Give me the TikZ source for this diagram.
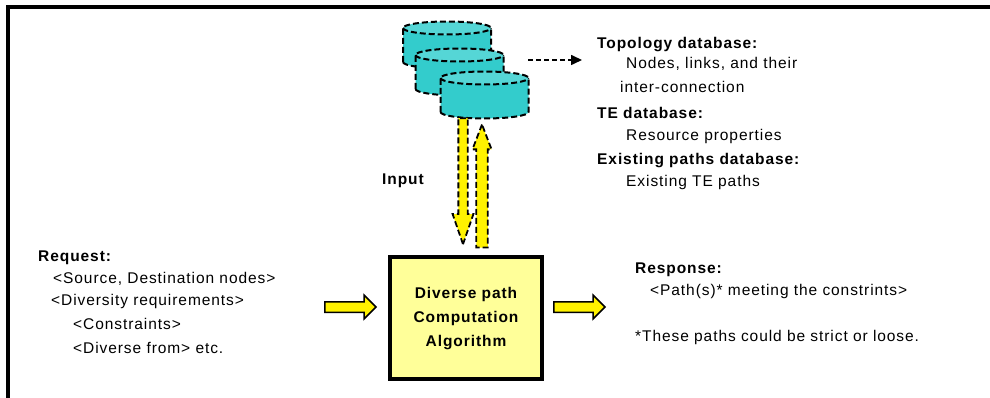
\documentclass[tikz,border=0pt]{standalone}
\usepackage{fontspec}
\setmainfont[LetterSpace=6]{Liberation Sans}
\usetikzlibrary{shapes.geometric,shapes.arrows,arrows.meta}
\definecolor{dbteal}{HTML}{33CCCC}
\definecolor{dbtop}{HTML}{55D6D6}
\definecolor{boxyellow}{HTML}{FFFF99}
\tikzset{
  txt/.style={anchor=base west,inner sep=0pt,font=\fontsize{15.5}{17}\selectfont},
  txtb/.style={txt,font=\fontsize{15.5}{17}\selectfont\bfseries},
  dbcyl/.style={cylinder,shape border rotate=90,aspect=1,anchor=shape center,draw=black,line width=2pt,
    dash pattern=on 6pt off 3pt,cylinder uses custom fill,cylinder body fill=dbteal,cylinder end fill=dbtop,
    minimum width=88pt,minimum height=47pt,inner sep=6.5pt},
  flatarrow/.style={single arrow,anchor=tip,draw=black,fill=yellow,inner xsep=0pt},
  feedarrow/.style={flatarrow,dash pattern=on 6pt off 3pt,line width=1.8pt},
  sidearrow/.style={flatarrow,line width=1.5pt,minimum height=51pt,inner ysep=4.5pt,single arrow head extend=6.5pt}
}
\begin{document}
\begin{tikzpicture}[x=1pt,y=-1pt]
\useasboundingbox (0,0) rectangle (990,398);
\coordinate (framel) at (8,398);
\coordinate (framec) at (8,7);
\coordinate (framer) at (990,7);
\draw[line width=4pt] (framel) -- (framec) -- (framer);

\path (447,45) node[dbcyl] (topodb){};
\path (459.5,72) node[dbcyl] (tedb){};
\path (484.5,95) node[dbcyl] (pathdb){};

\coordinate (dbout) at (528,60);
\coordinate (dbtxt) at (582,60);
\draw[-{Triangle[length=11pt,width=10pt]},line width=1.6pt,dash pattern=on 5pt off 3pt] (dbout) -- (dbtxt);

\path (463,247) node[feedarrow,rotate=-90,minimum height=126pt,inner ysep=3.75pt,single arrow head extend=5.75pt,single arrow tip angle=38] (down){};
\path (482,122) node[feedarrow,rotate=90,minimum height=123pt,inner ysep=4.85pt,single arrow head extend=3.8pt,single arrow tip angle=42] (up){};

\path (466,318) node[rectangle,draw,line width=3.5pt,fill=boxyellow,minimum width=152pt,minimum height=122pt] (algo){};
\path (466,298) node[txtb,anchor=base] (algoa){Diverse path};
\path (466,322) node[txtb,anchor=base] (algob){Computation};
\path (466,346) node[txtb,anchor=base] (algoc){Algorithm};

\path (377,307) node[sidearrow] (reqarrow){};
\path (606,307) node[sidearrow] (resparrow){};

\path (382,185) node[txtb] (input){Input};

\path (597,49) node[txtb] (topo){Topology database:};
\path (626,69) node[txt] (topoa){Nodes, links, and their};
\path (620,93) node[txt] (topob){inter-connection};
\path (597,119) node[txtb] (te){TE database:};
\path (626,141) node[txt] (tea){Resource properties};
\path (597,165) node[txtb] (exist){Existing paths database:};
\path (626,187) node[txt] (exista){Existing TE paths};

\path (38,261) node[txtb] (req){Request:};
\path (53,283) node[txt] (reqa){<Source, Destination nodes>};
\path (51,305) node[txt] (reqb){<Diversity requirements>};
\path (73,329) node[txt] (reqc){<Constraints>};
\path (73,353) node[txt] (reqd){<Diverse from> etc.};

\path (635,273) node[txtb] (resp){Response:};
\path (650,295) node[txt] (respa){<Path(s)* meeting the constrints>};
\path (635,341) node[txt] (respb){*These paths could be strict or loose.};
\end{tikzpicture}
\end{document}
